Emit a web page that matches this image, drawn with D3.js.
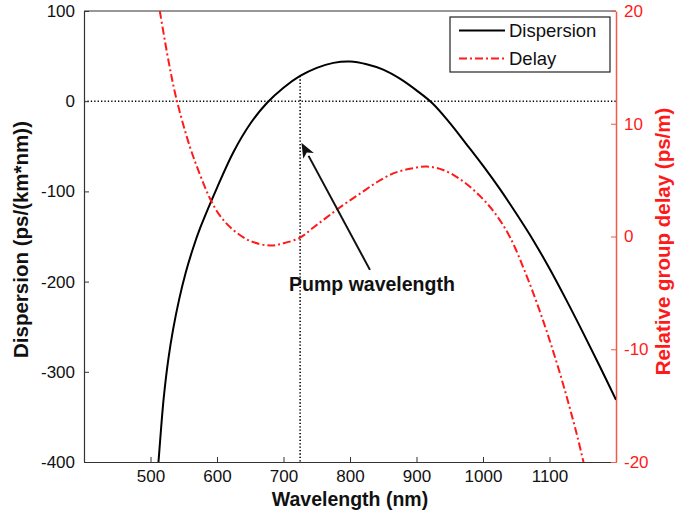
<!DOCTYPE html>
<html>
<head>
<meta charset="utf-8">
<script src="https://cdn.jsdelivr.net/npm/d3@7"></script>
<style>
  body { margin: 0; background: #fff; }
  text { font-family: "Liberation Sans", Arial, sans-serif; }
</style>
</head>
<body>
<div id="chart"></div>
<script>
// values
const dispWavelength = [512, 516, 520, 527, 534, 543, 553, 564, 575, 600, 625, 650, 675, 700, 725, 750, 775, 800, 825, 850, 875, 900, 925, 950, 975, 1000, 1025, 1050, 1075, 1100, 1125, 1150, 1175, 1200];
const dispersion = [-400, -362, -328, -285, -253, -220, -190, -163, -140, -96, -56, -25, -2, 15, 28, 37, 42.5, 44, 41, 35, 25, 12, -3, -24, -47.5, -71.5, -97, -124.5, -153.5, -185.5, -220, -256, -293, -331];

const delayWavelength = [514, 527, 539, 559, 575, 590, 605, 624, 650, 680, 700, 725, 745, 765, 790, 815, 840, 865, 890, 915, 940, 965, 990, 1015, 1040, 1065, 1090, 1115, 1140, 1155];
const delay = [20, 15.6, 12.2, 8.0, 5.4, 3.3, 1.8, 0.6, -0.4, -0.8, -0.6, -0.1, 0.8, 1.7, 2.8, 3.8, 4.8, 5.6, 6.0, 6.2, 5.9, 5.1, 3.9, 2.3, 0.0, -3.4, -7.4, -12.0, -17.3, -21.0];

const xTicks = [500, 600, 700, 800, 900, 1000, 1100];
const yLeftTicks = [100, 0, -100, -200, -300, -400];
const yRightTicks = [20, 10, 0, -10, -20];

const pumpWavelength = 725;
const seriesNames = ["Dispersion", "Delay"];

const margin = { top: 11, right: 81, bottom: 53, left: 84 },
  width = 697 - margin.left - margin.right,
  height = 515 - margin.top - margin.bottom;

const red = "#ff1a1a", axisRed = "#f05a46";

const svg = d3.select("#chart")
  .append("svg")
  .attr("width", 697)
  .attr("height", 515)
  .append("g")
  .attr("transform", `translate(${margin.left},${margin.top})`);

const x = d3.scaleLinear().domain([400, 1200]).range([0, width]);
const yL = d3.scaleLinear().domain([-400, 100]).range([height, 0]);
const yR = d3.scaleLinear().domain([-20, 20]).range([height, 0]);

// box top
svg.append("line")
  .attr("x1", 0).attr("x2", width).attr("y1", 0).attr("y2", 0)
  .attr("stroke", "#333").attr("stroke-width", 1.2);

// zero line
svg.append("line")
  .attr("x1", 0).attr("x2", width)
  .attr("y1", yL(0)).attr("y2", yL(0))
  .attr("stroke", "#000").attr("stroke-width", 1.6)
  .attr("stroke-dasharray", "1.3,2.1");

// pump wavelength marker, from the dispersion curve down to the axis
const pumpD = 28;
svg.append("line")
  .attr("x1", x(pumpWavelength)).attr("x2", x(pumpWavelength))
  .attr("y1", yL(pumpD)).attr("y2", height)
  .attr("stroke", "#000").attr("stroke-width", 1.6)
  .attr("stroke-dasharray", "1.3,2.1");

// axes (MATLAB style: ticks inside)
const fmt = d => String(d);
const xAxis = svg.append("g")
  .attr("transform", `translate(0,${height})`)
  .call(d3.axisBottom(x).tickValues(xTicks).tickFormat(fmt).tickSizeInner(-5).tickSizeOuter(0).tickPadding(8));
xAxis.selectAll("text").style("font-size", "17px").attr("fill", "#111");

const yAxisL = svg.append("g")
  .call(d3.axisLeft(yL).tickValues(yLeftTicks).tickFormat(fmt).tickSizeInner(-5).tickSizeOuter(0).tickPadding(9));
yAxisL.selectAll("text").style("font-size", "17px").attr("fill", "#111");

const yAxisR = svg.append("g")
  .attr("transform", `translate(${width},0)`)
  .call(d3.axisRight(yR).tickValues(yRightTicks).tickFormat(fmt).tickSizeInner(-5).tickSizeOuter(0).tickPadding(8));
yAxisR.selectAll("text").style("font-size", "17px").attr("fill", red);
yAxisR.selectAll("line").attr("stroke", axisRed);
yAxisR.select(".domain").attr("stroke", axisRed).attr("stroke-width", 1.5);
xAxis.select(".domain").attr("stroke", "#333").attr("stroke-width", 1.2);
yAxisL.select(".domain").attr("stroke", "#333").attr("stroke-width", 1.2);
xAxis.selectAll(".tick line").attr("stroke", "#333");
yAxisL.selectAll(".tick line").attr("stroke", "#333");

// clip for curves
svg.append("clipPath").attr("id", "plotclip")
  .append("rect").attr("width", width).attr("height", height);

const dispLine = d3.line()
  .x((d, i) => x(dispWavelength[i]))
  .y(d => yL(d))
  .curve(d3.curveCatmullRom.alpha(0.5));

const delayLine = d3.line()
  .x((d, i) => x(delayWavelength[i]))
  .y(d => yR(d))
  .curve(d3.curveCatmullRom.alpha(0.5));

svg.append("path")
  .datum(dispersion)
  .attr("clip-path", "url(#plotclip)")
  .attr("fill", "none")
  .attr("stroke", "#000")
  .attr("stroke-width", 2)
  .attr("d", dispLine);

svg.append("path")
  .datum(delay)
  .attr("clip-path", "url(#plotclip)")
  .attr("fill", "none")
  .attr("stroke", red)
  .attr("stroke-width", 2)
  .attr("stroke-dasharray", "8,3,2,3")
  .attr("d", delayLine);

// annotation arrow
const tail = [x(830), yL(-187)], tip = [x(727), yL(-46)];
const ang = Math.atan2(tip[1] - tail[1], tip[0] - tail[0]);
const headLen = 15, headW = 6;
const base = [tip[0] - headLen * Math.cos(ang), tip[1] - headLen * Math.sin(ang)];
svg.append("line")
  .attr("x1", tail[0]).attr("y1", tail[1])
  .attr("x2", base[0]).attr("y2", base[1])
  .attr("stroke", "#111").attr("stroke-width", 2);
svg.append("path")
  .attr("d", `M${tip[0]},${tip[1]}
    L${base[0] + headW * Math.sin(ang)},${base[1] - headW * Math.cos(ang)}
    L${tip[0] - 0.75 * headLen * Math.cos(ang)},${tip[1] - 0.75 * headLen * Math.sin(ang)}
    L${base[0] - headW * Math.sin(ang)},${base[1] + headW * Math.cos(ang)}Z`)
  .attr("fill", "#111");

svg.append("text")
  .attr("x", x(833))
  .attr("y", yL(-210))
  .attr("text-anchor", "middle")
  .style("font-size", "19.5px")
  .style("font-weight", "bold")
  .attr("fill", "#111")
  .text("Pump wavelength");

// axis labels
svg.append("text")
  .attr("x", width / 2)
  .attr("y", height + 44)
  .attr("text-anchor", "middle")
  .style("font-size", "19.5px")
  .style("font-weight", "bold")
  .attr("fill", "#111")
  .text("Wavelength (nm)");

svg.append("text")
  .attr("transform", `translate(${-56},${height / 2 + 3}) rotate(-90)`)
  .attr("text-anchor", "middle")
  .style("font-size", "20.5px")
  .style("font-weight", "bold")
  .attr("fill", "#111")
  .text("Dispersion (ps/(km*nm))");

svg.append("text")
  .attr("transform", `translate(${width + 54},${height / 2 + 5}) rotate(-90)`)
  .attr("text-anchor", "middle")
  .style("font-size", "20.5px")
  .style("font-weight", "bold")
  .attr("fill", red)
  .text("Relative group delay (ps/m)");

// legend
const legend = svg.append("g").attr("transform", `translate(${450 - margin.left},${17 - margin.top})`);
legend.append("rect")
  .attr("width", 160).attr("height", 55)
  .attr("fill", "#fff").attr("stroke", "#222").attr("stroke-width", 1.2);
const legendStyles = [
  { stroke: "#000", dash: null },
  { stroke: red, dash: "8,3,2,3" }
];
seriesNames.forEach((name, i) => {
  const ly = 13.5 + i * 28;
  legend.append("line")
    .attr("x1", 9).attr("x2", 55).attr("y1", ly).attr("y2", ly)
    .attr("stroke", legendStyles[i].stroke).attr("stroke-width", 2)
    .attr("stroke-dasharray", legendStyles[i].dash);
  legend.append("text")
    .attr("x", 59).attr("y", ly + 6.5)
    .style("font-size", "18.5px")
    .attr("fill", "#111")
    .text(name);
});
</script>
</body>
</html>
